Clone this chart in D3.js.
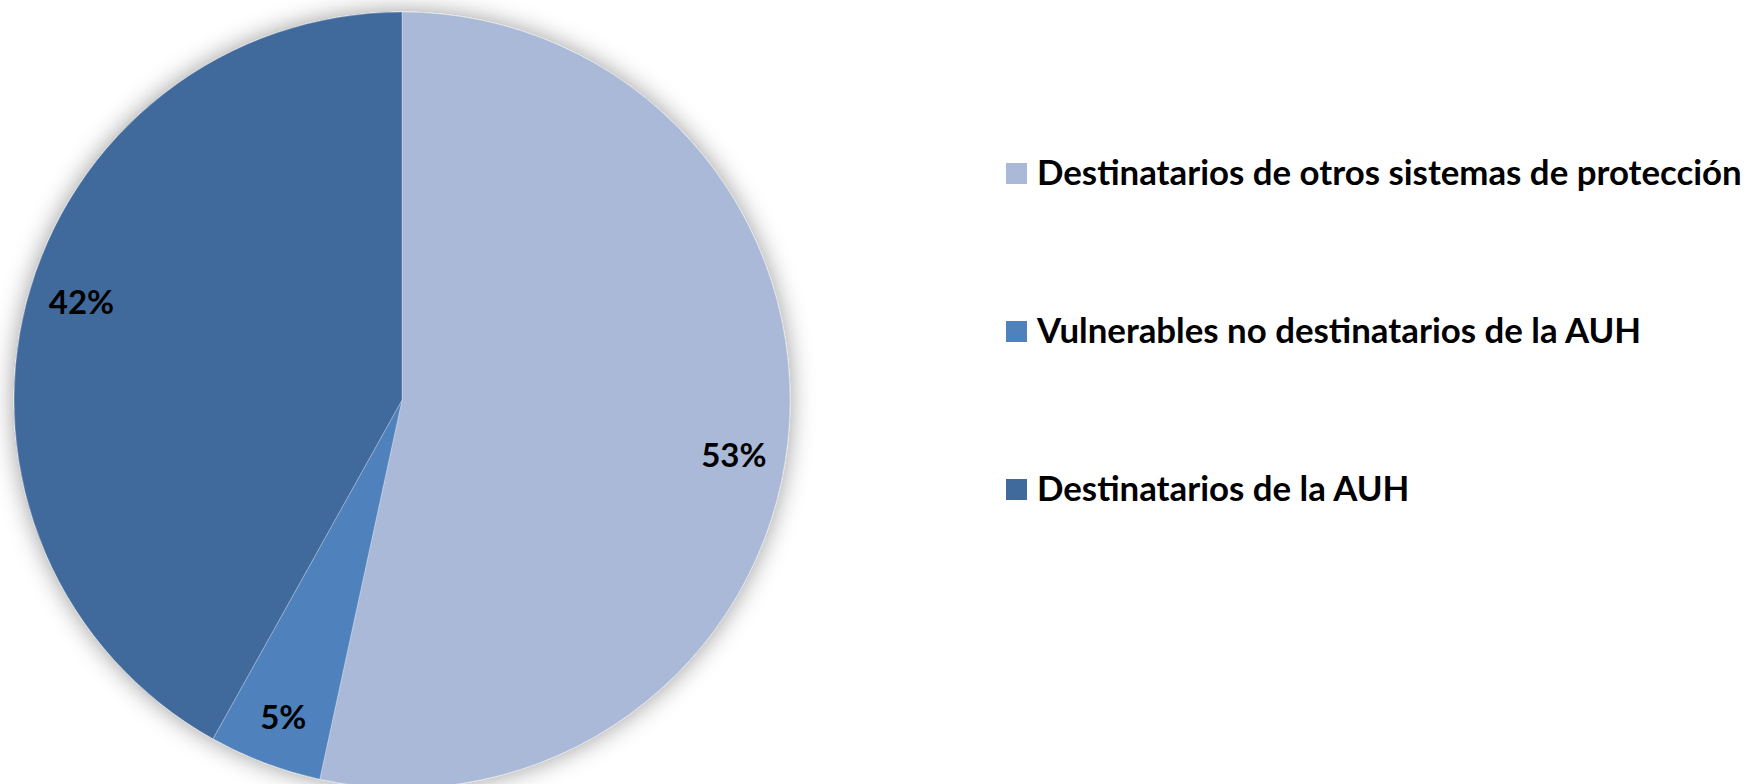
<!DOCTYPE html>
<html>
<head>
<meta charset="utf-8">
<script src="https://cdn.jsdelivr.net/npm/d3@7/dist/d3.min.js"></script>
<style>
  html, body { margin: 0; padding: 0; background: #ffffff; }
  svg { display: block; }
</style>
</head>
<body>
<svg id="chart" width="1748" height="784"></svg>
<script>
const categories = [
  "Destinatarios de otros sistemas de protección",
  "Vulnerables no destinatarios de la AUH",
  "Destinatarios de la AUH"
];
const values = [53.4, 4.7, 41.9];
const valueLabels = ["53%", "5%", "42%"];
const colors = ["#AAB9D7", "#4F81BD", "#416A9C"];

const svg = d3.select("#chart");
const cx = 402, cy = 400, R = 388;

const defs = svg.append("defs");
const f = defs.append("filter").attr("id", "shadow")
  .attr("x", "-20%").attr("y", "-20%").attr("width", "140%").attr("height", "140%");
f.append("feGaussianBlur").attr("in", "SourceAlpha").attr("stdDeviation", 12).attr("result", "b");
f.append("feFlood").attr("flood-color", "#000").attr("flood-opacity", 0.4).attr("result", "c");
f.append("feComposite").attr("in", "c").attr("in2", "b").attr("operator", "in").attr("result", "s");
const m = f.append("feMerge");
m.append("feMergeNode").attr("in", "s");
m.append("feMergeNode").attr("in", "SourceGraphic");

const pie = d3.pie().sort(null).value(d => d);
const arcs = pie(values);
const arc = d3.arc().innerRadius(0).outerRadius(R);
const labelR = 336, labelShift = 0.05;

const g = svg.append("g").attr("transform", `translate(${cx},${cy})`);
const slices = g.append("g").attr("filter", "url(#shadow)");
slices.selectAll("path").data(arcs).join("path")
  .attr("d", arc)
  .attr("fill", (d, i) => colors[i])
  .attr("stroke", "#ffffff")
  .attr("stroke-opacity", 0.35)
  .attr("stroke-width", 0.8);

g.selectAll("text.lbl").data(arcs).join("text")
  .attr("class", "lbl")
  .attr("transform", d => {
    const a = (d.startAngle + d.endAngle) / 2 + (d.endAngle - d.startAngle > 0.5 ? labelShift : 0);
    return `translate(${labelR * Math.sin(a)},${-labelR * Math.cos(a)})`;
  })
  .attr("text-anchor", "middle")
  .attr("dy", "0.45em")
  .attr("font-family", "Lato, 'Noto Sans', sans-serif")
  .attr("font-weight", "bold")
  .attr("font-size", 33)
  .attr("fill", "#000")
  .text((d, i) => valueLabels[i]);

// Legend
const legY = d3.scaleLinear().domain([0, 2]).range([163, 479]);
const leg = svg.append("g");
const items = leg.selectAll("g").data(categories).join("g")
  .attr("transform", (d, i) => `translate(1006,${legY(i)})`);
items.append("rect").attr("width", 21).attr("height", 21)
  .attr("fill", (d, i) => colors[i]);
const txt = items.append("text")
  .attr("x", 31).attr("y", 22)
  .attr("font-family", "Lato, 'Noto Sans', sans-serif")
  .attr("font-weight", "bold")
  .attr("font-size", 30)
  .attr("fill", "#000")
  .text(d => d);
const w0 = txt.node().getComputedTextLength();
txt.attr("font-size", 30 * 705 / w0);
</script>
</body>
</html>
